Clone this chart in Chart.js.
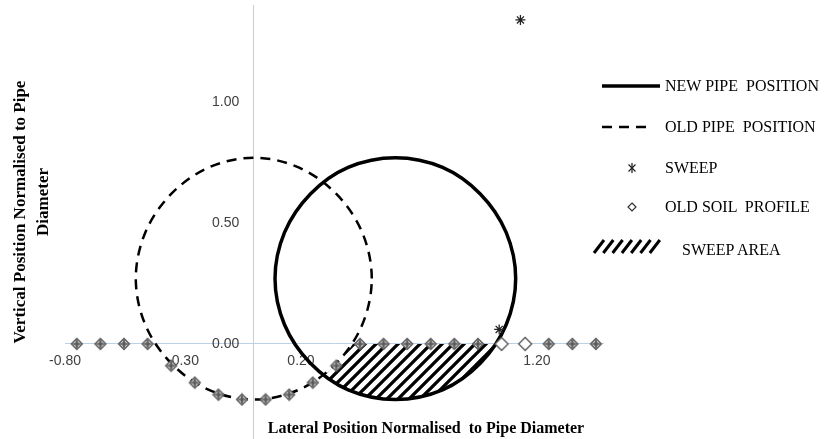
<!DOCTYPE html>
<html>
<head>
<meta charset="utf-8">
<script src="https://cdn.jsdelivr.net/npm/chart.js@4.4.0/dist/chart.umd.min.js"></script>
<style>
  html, body { margin: 0; padding: 0; background: #fff; }
  #wrap { position: relative; width: 827px; height: 439px; overflow: hidden; }
  /* canvas is shifted up so the plot area runs from y=7 to the bottom edge */
  #chart { position: absolute; left: 0; top: -6px; }
  .title { position: absolute; font-family: "Liberation Serif", serif; font-weight: bold; font-size: 16px; color: #000; white-space: pre; line-height: 20px; }
  #xTitle { left: 426px; top: 418px; transform: translateX(-50%); }
  .yTitle { font-size: 17px; transform: translate(-50%, -50%) rotate(-90deg); }
  .leg { position: absolute; font-family: "Liberation Serif", serif; font-size: 16px; color: #000; white-space: pre; line-height: 20px; }
  #legSvg { position: absolute; left: 0; top: 0; }
</style>
</head>
<body>
<div id="wrap">
  <canvas id="chart" width="827" height="458"></canvas>
  <svg id="legSvg" width="827" height="439">
    <line x1="602" y1="86" x2="660" y2="86" stroke="#000" stroke-width="3.5"/>
    <line x1="602" y1="127" x2="652" y2="127" stroke="#000" stroke-width="2.5" stroke-dasharray="10 7"/>
    <g stroke="#222" stroke-width="1.3">
      <line x1="628.5" y1="164.5" x2="635.5" y2="171.5"/>
      <line x1="635.5" y1="164.5" x2="628.5" y2="171.5"/>
      <line x1="632" y1="163" x2="632" y2="173"/>
    </g>
    <polygon points="632,203 636,207 632,211 628,207" fill="#fff" stroke="#333" stroke-width="1.2"/>
    <g stroke="#000" stroke-width="3">
      <line x1="594" y1="253" x2="604" y2="240"/>
      <line x1="603.3" y1="253" x2="613.3" y2="240"/>
      <line x1="612.6" y1="253" x2="622.6" y2="240"/>
      <line x1="621.9" y1="253" x2="631.9" y2="240"/>
      <line x1="631.2" y1="253" x2="641.2" y2="240"/>
      <line x1="640.5" y1="253" x2="650.5" y2="240"/>
      <line x1="649.8" y1="253" x2="659.8" y2="240"/>
    </g>
  </svg>
  <div class="leg" style="left:665px; top:76px;">NEW PIPE  POSITION</div>
  <div class="leg" style="left:665px; top:117px;">OLD PIPE  POSITION</div>
  <div class="leg" style="left:665px; top:158px;">SWEEP</div>
  <div class="leg" style="left:665px; top:197px;">OLD SOIL  PROFILE</div>
  <div class="leg" style="left:682px; top:240px;">SWEEP AREA</div>
  <div class="title" id="xTitle">Lateral Position Normalised  to Pipe Diameter</div>
  <div class="title yTitle" style="left:20px; top:212px;">Vertical Position Normalised to Pipe</div>
  <div class="title yTitle" style="left:43px; top:202px;">Diameter</div>
</div>
<script>
// tick values
const xTicks = [-0.8, -0.3, 0.2, 0.7, 1.2];
const yTicks = [0, 0.5, 1.0];

// new pipe outline (first and last points only close the loop smoothly)
const newPipeX = [1.07, 1.11, 1.07, 0.96, 0.80, 0.60, 0.40, 0.24, 0.13, 0.09, 0.13, 0.24, 0.40, 0.60, 0.80, 0.96, 1.07, 1.11, 1.07];
const newPipeY = [0.08, 0.27, 0.46, 0.62, 0.73, 0.77, 0.73, 0.62, 0.46, 0.27, 0.08, -0.08, -0.19, -0.23, -0.19, -0.08, 0.08, 0.27, 0.46];

// old pipe outline
const oldPipeX = [0.46, 0.50, 0.46, 0.35, 0.19, 0.00, -0.19, -0.35, -0.46, -0.50, -0.46, -0.35, -0.19, 0.00, 0.19, 0.35, 0.46, 0.50, 0.46];
const oldPipeY = [0.08, 0.27, 0.46, 0.62, 0.73, 0.77, 0.73, 0.62, 0.46, 0.27, 0.08, -0.08, -0.19, -0.23, -0.19, -0.08, 0.08, 0.27, 0.46];

// sweep points
const sweepX = [1.13, 1.04];
const sweepY = [1.34, 0.06];

// old soil profile
const soilX = [-0.75, -0.65, -0.55, -0.45, -0.35, -0.25, -0.15, -0.05, 0.05, 0.15, 0.25, 0.35, 0.45, 0.55, 0.65, 0.75, 0.85, 0.95, 1.05, 1.15, 1.25, 1.35, 1.45];
const soilY = [0, 0, 0, 0, -0.09, -0.16, -0.21, -0.23, -0.23, -0.21, -0.16, -0.09, 0, 0, 0, 0, 0, 0, 0, 0, 0, 0, 0];

// sweep area outline
const areaX = [0.42, 1.03, 0.96, 0.885, 0.80, 0.70, 0.60, 0.50, 0.40, 0.345, 0.30, 0.37, 0.42];
const areaY = [0.00, 0.00, -0.08, -0.145, -0.19, -0.22, -0.23, -0.22, -0.19, -0.165, -0.13, -0.07, 0.00];

function pts(xs, ys) {
    return xs.map((x, i) => ({ x: x, y: ys[i] }));
}

function makeDiamond(size, crossed) {
    const c = document.createElement('canvas');
    c.width = size;
    c.height = size;
    const g = c.getContext('2d');
    const m = size / 2, r = size / 2 - 1.5;
    g.beginPath();
    g.moveTo(m, m - r); g.lineTo(m + r, m); g.lineTo(m, m + r); g.lineTo(m - r, m);
    g.closePath();
    g.fillStyle = crossed ? '#e4e4e4' : '#fff';
    g.fill();
    g.strokeStyle = '#555';
    g.lineWidth = 1.3;
    g.stroke();
    if (crossed) {
        g.beginPath();
        g.arc(m, m, 2.2, 0, Math.PI * 2);
        g.strokeStyle = '#777';
        g.lineWidth = 1;
        g.stroke();
        g.beginPath();
        g.moveTo(m - 4, m); g.lineTo(m + 4, m);
        g.moveTo(m, m - 4); g.lineTo(m, m + 4);
        g.strokeStyle = '#333';
        g.lineWidth = 1.2;
        g.stroke();
    }
    return c;
}

function makeHatch() {
    const s = 11;
    const c = document.createElement('canvas');
    c.width = s;
    c.height = s;
    const g = c.getContext('2d');
    g.fillStyle = '#fff';
    g.fillRect(0, 0, s, s);
    g.strokeStyle = '#000';
    g.lineWidth = 3.3;
    g.beginPath();
    g.moveTo(-1, s + 1); g.lineTo(s + 1, -1);
    g.moveTo(-4, 4); g.lineTo(4, -4);
    g.moveTo(s - 4, s + 4); g.lineTo(s + 4, s - 4);
    g.stroke();
    return g.createPattern(c, 'repeat');
}

const crossedDiamond = makeDiamond(14, true);
const openDiamond = makeDiamond(16, false);
const openSoil = [18, 19];
const axisColor = '#bcd0e6';
const tickFont = { family: 'Liberation Sans', size: 14 };

// hide the wrap-around segments at both ends of a closed outline
function loopSegment(n) {
    return ctx => (ctx.p0DataIndex === 0 || ctx.p1DataIndex === n - 1) ? 'rgba(0,0,0,0)' : undefined;
}

new Chart(document.getElementById('chart'), {
    type: 'scatter',
    data: {
        datasets: [
            {
                label: 'SWEEP',
                data: pts(sweepX, sweepY),
                pointStyle: 'star',
                pointRadius: 5,
                borderColor: '#222',
                borderWidth: 1.3,
                showLine: false
            },
            {
                label: 'OLD SOIL PROFILE',
                data: pts(soilX, soilY),
                pointStyle: ctx => openSoil.includes(ctx.dataIndex) ? openDiamond : crossedDiamond,
                showLine: false
            },
            {
                label: 'NEW PIPE POSITION',
                data: pts(newPipeX, newPipeY),
                showLine: true,
                pointRadius: 0,
                borderColor: '#000',
                borderWidth: 3.5,
                tension: 0.34,
                segment: { borderColor: loopSegment(newPipeX.length) }
            },
            {
                label: 'OLD PIPE POSITION',
                data: pts(oldPipeX, oldPipeY),
                showLine: true,
                pointRadius: 0,
                borderColor: '#000',
                borderWidth: 2.5,
                borderDash: [10, 7],
                tension: 0.34,
                segment: { borderColor: loopSegment(oldPipeX.length) }
            },
            {
                label: 'SWEEP AREA',
                data: pts(areaX, areaY),
                showLine: true,
                pointRadius: 0,
                borderWidth: 0,
                borderColor: 'rgba(0,0,0,0)',
                backgroundColor: makeHatch(),
                fill: 'shape',
                tension: 0
            }
        ]
    },
    options: {
        responsive: false,
        animation: false,
        layout: { padding: { left: 65, right: 224, top: 0, bottom: 0 } },
        plugins: {
            legend: { display: false },
            tooltip: { enabled: false }
        },
        scales: {
            x: {
                type: 'linear',
                min: -0.8,
                max: 1.48,
                position: { y: 0 },
                grid: { display: false, drawTicks: false },
                border: { display: true, color: axisColor, width: 1 },
                ticks: { padding: 9, font: tickFont, color: '#404040', callback: v => v.toFixed(2) },
                afterBuildTicks: s => { s.ticks = xTicks.map(v => ({ value: v })); }
            },
            y: {
                type: 'linear',
                min: -0.4,
                max: 1.4,
                position: { x: 0 },
                grid: { display: false, drawTicks: false },
                border: { display: true, color: axisColor, width: 1 },
                // labels of an axis placed at x=0 are right-aligned on the axis, the trailing gap keeps them off it
                ticks: { font: tickFont, color: '#404040', callback: v => v.toFixed(2) + '   \u2009' },
                afterBuildTicks: s => { s.ticks = yTicks.map(v => ({ value: v })); }
            }
        }
    }
});
</script>
</body>
</html>
